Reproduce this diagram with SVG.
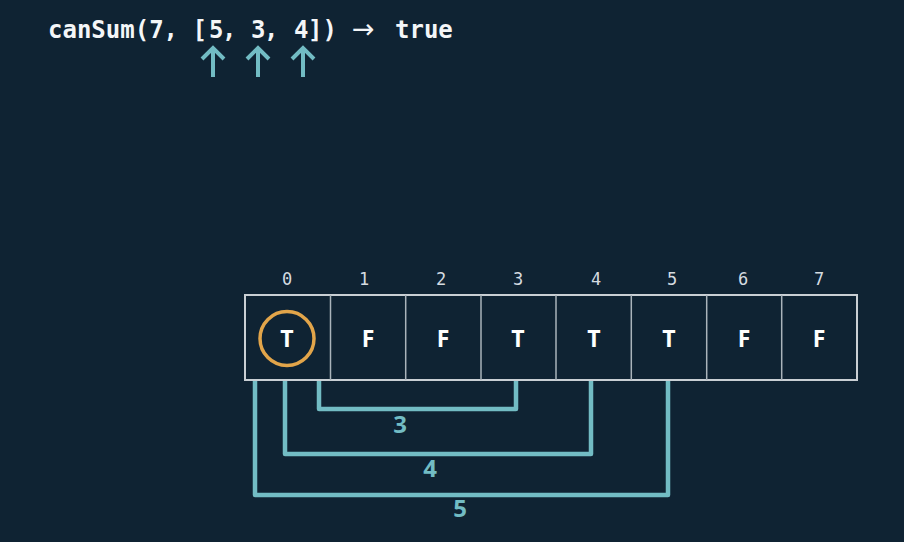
<svg xmlns="http://www.w3.org/2000/svg" width="904" height="542" viewBox="0 0 904 542">
  <style>
    .title { font-family: "DejaVu Sans Mono", "Liberation Mono", monospace; font-weight: bold; font-size: 24px; fill: #f4f6f8; }
    .idx { font-family: "DejaVu Sans Mono", "Liberation Mono", monospace; font-size: 17px; fill: #d5dbe0; text-anchor: middle; }
    .cell { font-family: "Open Sans", "DejaVu Sans", sans-serif; font-weight: bold; font-size: 23px; fill: #ffffff; text-anchor: middle; }
    .lbl { font-family: "Open Sans", "DejaVu Sans", sans-serif; font-weight: bold; font-size: 24px; fill: #72bcc4; text-anchor: middle; }
    .teal { fill: none; stroke: #72bcc4; stroke-width: 4.5; stroke-linejoin: round; }
    .arrow { fill: none; stroke: #72bcc4; stroke-width: 4; stroke-linecap: butt; stroke-linejoin: miter; }
    .divider { stroke: #aab4bb; stroke-width: 1.5; }
  </style>
  <rect width="904" height="542" fill="#0f2333"/>

  <!-- function call header -->
  <g id="header">
    <text class="title" y="38"><tspan x="48">canSum(7, [</tspan><tspan x="209">5</tspan><tspan x="222">,</tspan><tspan x="251">3</tspan><tspan x="264">,</tspan><tspan x="294">4</tspan><tspan x="308">])</tspan><tspan x="352" font-family="DejaVu Sans, sans-serif" font-weight="normal" font-size="27">→</tspan><tspan x="395">true</tspan></text>
  </g>

  <!-- pointer arrows under the array elements -->
  <g id="pointers">
    <g id="ptr-5"><path class="arrow" d="M213 77 V48 M202 59 L213 48 L224 59"/></g>
    <g id="ptr-3"><path class="arrow" d="M258 77 V48 M247 59 L258 48 L269 59"/></g>
    <g id="ptr-4"><path class="arrow" d="M303 77 V48 M292 59 L303 48 L314 59"/></g>
  </g>

  <!-- index labels -->
  <g id="indices">
    <text class="idx" x="287" y="285">0</text>
    <text class="idx" x="364" y="285">1</text>
    <text class="idx" x="441" y="285">2</text>
    <text class="idx" x="518" y="285">3</text>
    <text class="idx" x="596" y="285">4</text>
    <text class="idx" x="672" y="285">5</text>
    <text class="idx" x="743" y="285">6</text>
    <text class="idx" x="819" y="285">7</text>
  </g>

  <!-- table -->
  <g id="table">
    <rect x="245" y="295" width="612" height="85" fill="#0f2333" stroke="#c9cfd4" stroke-width="2"/>
    <line class="divider" x1="330.5" y1="295" x2="330.5" y2="380"/>
    <line class="divider" x1="405.7" y1="295" x2="405.7" y2="380"/>
    <line class="divider" x1="481" y1="295" x2="481" y2="380"/>
    <line class="divider" x1="556" y1="295" x2="556" y2="380"/>
    <line class="divider" x1="631.3" y1="295" x2="631.3" y2="380"/>
    <line class="divider" x1="706.7" y1="295" x2="706.7" y2="380"/>
    <line class="divider" x1="781.7" y1="295" x2="781.7" y2="380"/>
  </g>

  <g id="cell-0">
    <circle cx="287" cy="338.5" r="27" fill="none" stroke="#e2a54a" stroke-width="3.5"/>
    <text class="cell" x="287" y="347">T</text>
  </g>
  <g id="cell-1"><text class="cell" x="368" y="347">F</text></g>
  <g id="cell-2"><text class="cell" x="443" y="347">F</text></g>
  <g id="cell-3"><text class="cell" x="518" y="347">T</text></g>
  <g id="cell-4"><text class="cell" x="594" y="347">T</text></g>
  <g id="cell-5"><text class="cell" x="669" y="347">T</text></g>
  <g id="cell-6"><text class="cell" x="744" y="347">F</text></g>
  <g id="cell-7"><text class="cell" x="819" y="347">F</text></g>

  <!-- jump brackets from index 0 -->
  <g id="connectors">
    <path class="teal" d="M319 381 V409 H516 V381"/>
    <path class="teal" d="M285 381 V454 H591 V381"/>
    <path class="teal" d="M255 381 V495 H668 V381"/>
  </g>
  <g id="labels">
    <text class="lbl" x="400" y="433">3</text>
    <text class="lbl" x="430" y="477">4</text>
    <text class="lbl" x="460" y="517">5</text>
  </g>
</svg>
